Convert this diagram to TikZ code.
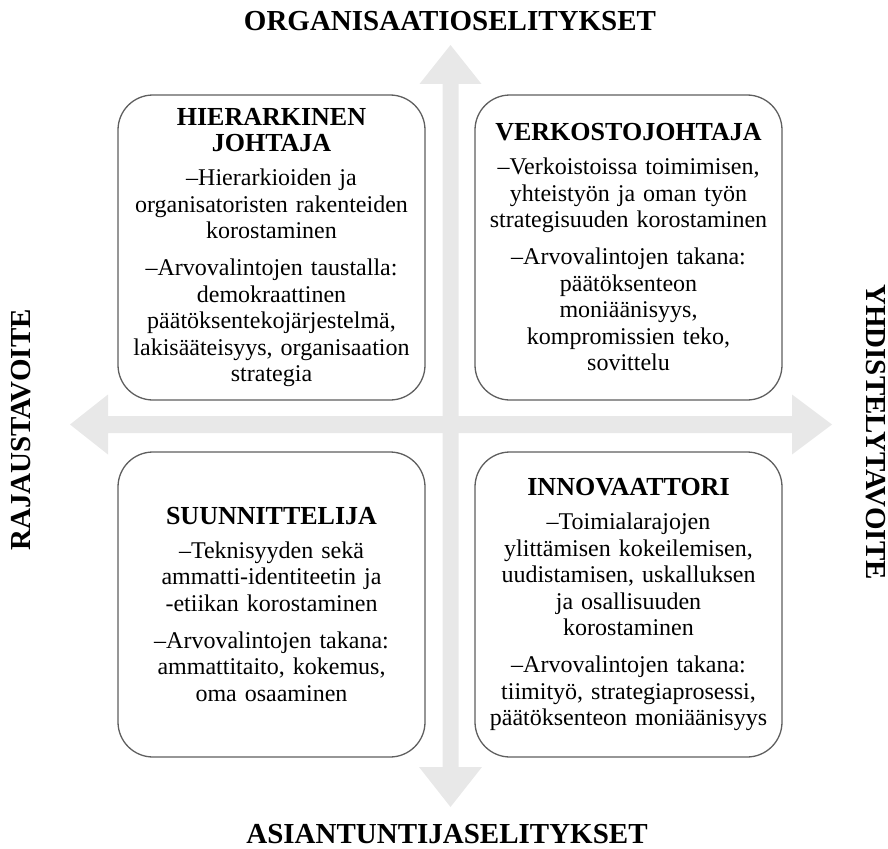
\documentclass[tikz,border=0pt]{standalone}
\usepackage{fontspec}
\setmainfont{Liberation Serif}
\definecolor{axisgrey}{RGB}{232,232,232}
\definecolor{boxline}{RGB}{95,95,95}
\newcommand{\hd}[1]{{\fontsize{26}{26.5}\selectfont\bfseries #1}}
\begin{document}
\begin{tikzpicture}[x=1pt,y=-1pt,
  quad/.style={draw=boxline, line width=1.3pt, fill=white, rounded corners=35pt,
    minimum width=307pt, minimum height=305pt, inner sep=0pt, text width=300pt,
    align=center, font=\fontsize{24}{26.5}\selectfont},
  axislabel/.style={font=\fontsize{29}{30}\selectfont\bfseries, inner sep=0pt}]
\useasboundingbox (0,0) rectangle (888,848);
% axes (block arrows)
\coordinate (vtop) at (450.5,45);
\coordinate (vbot) at (450.5,807);
\coordinate (hleft) at (70,424.5);
\coordinate (hright) at (832,424.5);
\fill[axisgrey] (442.5,84) -- (419.5,84) -- (vtop) -- (481.5,84) -- (458.5,84)
  -- (458.5,767) -- (482,767) -- (vbot) -- (419,767) -- (442.5,767) -- cycle;
\fill[axisgrey] (108,416) -- (108,394.5) -- (hleft) -- (108,454.5) -- (108,433)
  -- (792,433) -- (792,454.5) -- (hright) -- (792,394.5) -- (792,416) -- cycle;
% axis labels
\node[axislabel, anchor=base] (org) at (450,31) {ORGANISAATIOSELITYKSET};
\node[axislabel, anchor=base] (asi) at (447,843) {ASIANTUNTIJASELITYKSET};
\node[axislabel, anchor=base, rotate=90] (raj) at (30,430) {RAJAUSTAVOITE};
\node[axislabel, anchor=base, rotate=-90] (yhd) at (866,432) {YHDISTELYTAVOITE};
% quadrants
\node[quad] (tl) at (271.5,247.5) {\hd{HIERARKINEN}\\\hd{JOHTAJA}\\[7.5pt]
  \textendash Hierarkioiden ja\\organisatoristen rakenteiden\\korostaminen\\[10.5pt]
  \textendash Arvovalintojen taustalla:\\demokraattinen\\päätöksentekojärjestelmä,\\lakisääteisyys, organisaation\\strategia};
\node[quad] (tr) at (628.5,247.5) {\hd{VERKOSTOJOHTAJA}\\[7.5pt]
  \textendash Verkoistoissa toimimisen,\\yhteistyön ja oman työn\\strategisuuden korostaminen\\[10.5pt]
  \textendash Arvovalintojen takana:\\päätöksenteon\\moniäänisyys,\\kompromissien teko,\\sovittelu};
\node[quad] (bl) at (271.5,604.5) {\hd{SUUNNITTELIJA}\\[7.5pt]
  \textendash Teknisyyden sekä\\ammatti-identiteetin ja\\-etiikan korostaminen\\[10.5pt]
  \textendash Arvovalintojen takana:\\ammattitaito, kokemus,\\oma osaaminen};
\node[quad] (br) at (628.5,604.5) {\hd{INNOVAATTORI}\\[7.5pt]
  \textendash Toimialarajojen\\ylittämisen kokeilemisen,\\uudistamisen, uskalluksen\\ja osallisuuden\\korostaminen\\[10.5pt]
  \textendash Arvovalintojen takana:\\tiimityö, strategiaprosessi,\\päätöksenteon moniäänisyys};
\end{tikzpicture}
\end{document}
